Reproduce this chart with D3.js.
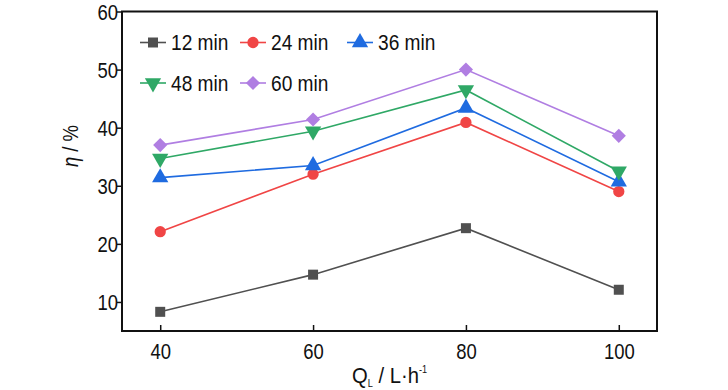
<!DOCTYPE html>
<html><head><meta charset="utf-8">
<script src="https://cdn.jsdelivr.net/npm/d3@7"></script>
<style>
body{margin:0;background:#fff;}
text{font-family:"Liberation Sans",Arial,sans-serif;}
</style></head>
<body><svg id="c" width="728" height="390"></svg>
<script>
const xValues = [40, 60, 80, 100];
const seriesNames = ["12 min", "24 min", "36 min", "48 min", "60 min"];
const s12 = [8.3, 14.7, 22.7, 12.1];
const s24 = [22.1, 32.0, 40.9, 29.0];
const s36 = [31.4, 33.5, 43.4, 30.7];
const s48 = [34.7, 39.4, 46.5, 32.5];
const s60 = [37.0, 41.4, 50.0, 38.6];
const xTicks = [40, 60, 80, 100];
const yTicks = [10, 20, 30, 40, 50, 60];

const colors = ["#505050", "#f04545", "#1f6be0", "#2fa866", "#b07ee2"];
const symbols = [d3.symbolSquare, d3.symbolCircle, d3.symbolTriangle, d3.symbolTriangle, d3.symbolSquare];
const symSizes = [100, 100, 115, 115, 100];
const rotations = [0, 0, 0, 180, 45];
const allSeries = [s12, s24, s36, s48, s60];
const SX = 0.84;

const svg = d3.select("#c");
const L = 122, R = 657, T = 11.5, B = 331;
const x = d3.scaleLinear().domain([35, 105]).range([L, R]);
const y = d3.scaleLinear().domain([5, 60]).range([B, T]);

// axes
const xAxis = svg.append("g").attr("transform", `translate(0,${B})`)
  .call(d3.axisBottom(x).tickValues(xTicks).tickSizeInner(-6).tickSizeOuter(0).tickPadding(12));
const yAxis = svg.append("g").attr("transform", `translate(${L},0)`)
  .call(d3.axisLeft(y).tickValues(yTicks).tickSizeInner(5).tickSizeOuter(0).tickPadding(2));
[xAxis, yAxis].forEach(g => {
  g.select(".domain").remove();
  g.selectAll(".tick line").attr("stroke", "#111").attr("stroke-width", 1.5);
  g.selectAll(".tick text").attr("fill", "#111").attr("font-size", 22)
    .attr("font-family", '"Liberation Sans",Arial,sans-serif');
});
xAxis.selectAll(".tick text").attr("transform", `scale(${SX},1)`);
yAxis.selectAll(".tick text").attr("dy", "0.36em").attr("x", 0)
  .attr("transform", `translate(-4,0) scale(${SX},1)`);

// frame
svg.append("rect").attr("x", L).attr("y", T).attr("width", R - L).attr("height", B - T)
  .attr("fill", "none").attr("stroke", "#111").attr("stroke-width", 2);

const line = d3.line().x((d, i) => x(xValues[i])).y(d => y(d));

allSeries.forEach((s, k) => {
  svg.append("path").datum(s).attr("d", line).attr("fill", "none")
    .attr("stroke", colors[k]).attr("stroke-width", 1.6);
});
allSeries.forEach((s, k) => {
  svg.append("g").selectAll("path").data(s).join("path")
    .attr("d", d3.symbol().type(symbols[k]).size(symSizes[k]))
    .attr("transform", (d, i) => `translate(${x(xValues[i])},${y(d)}) rotate(${rotations[k]})`)
    .attr("fill", colors[k]);
});

// legend
const legPos = [[140, 42.5], [240, 42.5], [347, 42.5], [140, 83], [240, 83]];
seriesNames.forEach((name, k) => {
  const [lx, ly] = legPos[k];
  const g = svg.append("g").attr("transform", `translate(${lx},${ly})`);
  g.append("line").attr("x1", 0).attr("x2", 26).attr("y1", 0).attr("y2", 0)
    .attr("stroke", colors[k]).attr("stroke-width", 1.6);
  g.append("path").attr("d", d3.symbol().type(symbols[k]).size(symSizes[k]))
    .attr("transform", `translate(13,0) rotate(${rotations[k]})`).attr("fill", colors[k]);
  g.append("text").attr("transform", `translate(31,0) scale(0.87,1)`).attr("dy", "0.36em")
    .attr("font-size", 22).attr("fill", "#111").text(name);
});

// axis titles
const xt = svg.append("text").attr("transform", `translate(${(L + R) / 2},383) scale(0.92,1)`)
  .attr("text-anchor", "middle").attr("font-size", 22).attr("fill", "#111");
xt.append("tspan").text("Q");
xt.append("tspan").attr("font-size", 10).attr("dy", 4).text("L");
xt.append("tspan").attr("dy", -4).text(" / L·h");
xt.append("tspan").attr("font-size", 10).attr("dy", -10).text("-1");

const yt = svg.append("text").attr("transform", `translate(78,146) rotate(-90) scale(${SX},1)`)
  .attr("text-anchor", "middle").attr("font-size", 22).attr("fill", "#111");
yt.append("tspan").attr("font-style", "italic").text("η");
yt.append("tspan").text(" / %");
</script></body></html>
